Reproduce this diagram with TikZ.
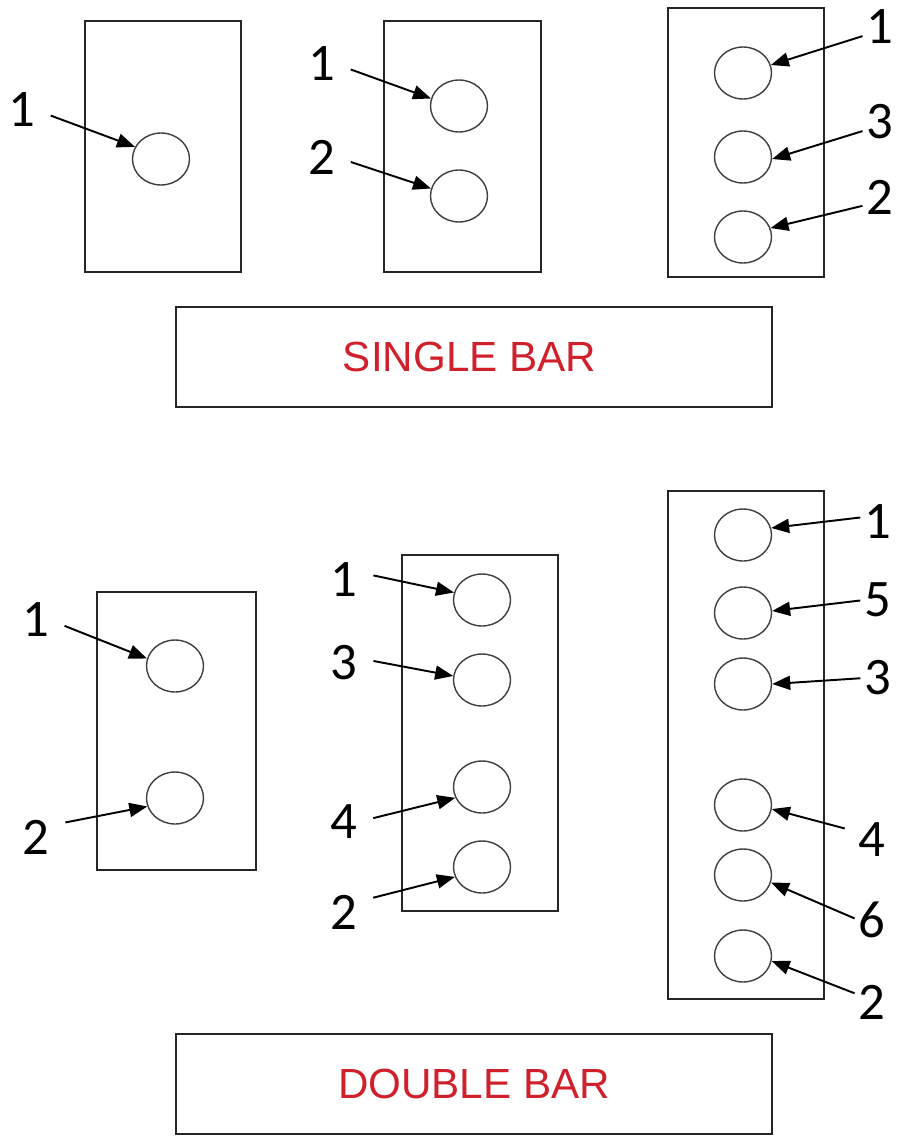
\documentclass[tikz,border=0pt]{standalone}
\usepackage{fontspec}
\setmainfont{Liberation Sans}
\newfontfamily\numfont{Carlito}
\usetikzlibrary{shapes.geometric,arrows.meta}
\definecolor{barred}{RGB}{208,32,44}
\tikzset{
  hole/.style={draw=black!75,line width=0.8pt,ellipse,minimum width=1.14cm,minimum height=1.04cm,inner sep=0pt},
  plate/.style={draw=black!85,line width=1pt},
  num/.style={inner sep=0pt,font=\numfont\fontsize{30}{36}\selectfont},
  arr/.style={-{Triangle[length=0.36cm,width=0.28cm]},line width=1.1pt},
  larr/.style={arr,shorten <=0.32cm},
  rarr/.style={arr,shorten <=0.08cm},
  banner/.style={draw=black!85,line width=1pt,minimum width=11.92cm,minimum height=2cm,text=barred,font=\fontsize{24}{28}\selectfont}
}
\begin{document}
\begin{tikzpicture}[x=0.02cm,y=-0.02cm]
\useasboundingbox (0,0) rectangle (904,1136);
\draw[plate] (85,21) rectangle (241,272);
\draw[plate] (384,21) rectangle (541,272);
\draw[plate] (668,8) rectangle (824,277);
\node[hole] (A1) at (161,159) {};
\node[hole] (B1) at (459,106) {};
\node[hole] (B2) at (459,196) {};
\node[hole] (C1) at (743,73) {};
\node[hole] (C3) at (743,157) {};
\node[hole] (C2) at (743,237) {};
\node[num] (LA1) at (22,110) {1};
\node[num] (LB1) at (322,64) {1};
\node[num] (LB2) at (322,157) {2};
\node[num] (LC1) at (880,27) {1};
\node[num] (LC3) at (880,122) {3};
\node[num] (LC2) at (880,197) {2};
\draw[larr] (LA1.east) -- (A1.155);
\draw[larr] (LB1.east) -- (B1.165);
\draw[larr] (LB2.east) -- (B2.165);
\draw[rarr] (LC1.210) -- (C1.16);
\draw[rarr] (LC3.210) -- (C3.356);
\draw[rarr] (LC2.210) -- (C2.18);
\node[banner] (single) at (474,357) {SINGLE BAR\hspace*{0.18cm}};
\draw[plate] (97,592) rectangle (256,870);
\draw[plate] (402,555) rectangle (558,911);
\draw[plate] (668,491) rectangle (824,999);
\node[hole] (D1) at (175,666) {};
\node[hole] (D2) at (175,798) {};
\node[hole] (E1) at (482,600) {};
\node[hole] (E3) at (482,680) {};
\node[hole] (E4) at (482,787) {};
\node[hole] (E2) at (482,867) {};
\node[hole] (F1) at (743,535) {};
\node[hole] (F5) at (743,613) {};
\node[hole] (F3) at (743,684) {};
\node[hole] (F4) at (743,805) {};
\node[hole] (F6) at (743,875) {};
\node[hole] (F2) at (743,956) {};
\node[num] (LD1) at (36,620) {1};
\node[num] (LD2) at (36,837) {2};
\node[num] (LE1) at (344,580) {1};
\node[num] (LE3) at (344,663) {3};
\node[num] (LE4) at (344,822) {4};
\node[num] (LE2) at (344,912) {2};
\node[num] (LF1) at (878,522) {1};
\node[num] (LF5) at (878,600) {5};
\node[num] (LF3) at (878,678) {3};
\node[num] (LF4) at (872,840) {4};
\node[num] (LF6) at (872,920) {6};
\node[num] (LF2) at (872,1002) {2};
\draw[larr] (LD1.east) -- (D1.165);
\draw[larr] (LD2.40) -- (D2.197);
\draw[larr] (LE1.30) -- (E1.165);
\draw[larr] (LE3.20) -- (E3.172);
\draw[larr] (LE4.east) -- (E4.202);
\draw[larr] (LE2.37) -- (E2.200);
\draw[rarr] (LF1.160) -- (F1.14);
\draw[rarr] (LF5.west) -- (F5.4);
\draw[rarr] (LF3.west) -- (F3.0);
\draw[rarr,shorten <=0.28cm] (LF4.150) -- (F4.352);
\draw[rarr] (LF6.west) -- (F6.345);
\draw[rarr] (LF2.152) -- (F2.350);
\node[banner] (double) at (474,1084) {DOUBLE BAR};
\end{tikzpicture}
\end{document}
